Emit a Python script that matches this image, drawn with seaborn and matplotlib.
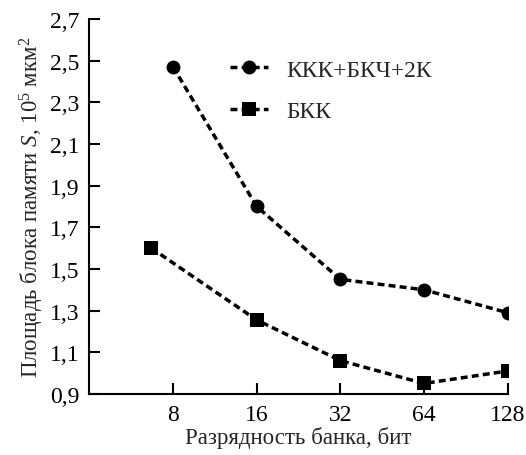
import seaborn as sns
import pandas as pd
import matplotlib.pyplot as plt
from matplotlib.ticker import FuncFormatter

sns.set_style("ticks")
plt.rcParams['font.family'] = ['Liberation Serif', 'DejaVu Serif']
plt.rcParams['mathtext.fontset'] = 'custom'
plt.rcParams['mathtext.rm'] = 'Liberation Serif'
plt.rcParams['mathtext.it'] = 'Liberation Serif:italic'

bits = ["8", "16", "32", "64", "128"]
kkk_x = [0, 1, 2, 3, 4]
kkk = [2.47, 1.80, 1.45, 1.40, 1.29]
bkk_x = [-0.26, 1, 2, 3, 4]
bkk = [1.60, 1.255, 1.06, 0.95, 1.01]

df = pd.concat([
    pd.DataFrame({"x": kkk_x, "S": kkk, "Серия": "ККК+БКЧ+2К"}),
    pd.DataFrame({"x": bkk_x, "S": bkk, "Серия": "БКК"}),
])

fig, ax = plt.subplots(figsize=(5.26, 4.56), dpi=100)
sns.lineplot(data=df, x="x", y="S", hue="Серия", style="Серия",
             palette=["black", "black"], markers=["o", "s"],
             dashes=[(2, 1.2), (2, 1.2)], linewidth=2.5, markersize=10,
             markeredgewidth=0, ax=ax)

ax.set_xlim(-1, 4)
ax.set_ylim(0.9, 2.7)
ax.set_xticks(range(5))
ax.set_xticklabels(bits)
ax.set_yticks([0.9 + 0.2 * i for i in range(10)])
ax.yaxis.set_major_formatter(FuncFormatter(lambda v, p: f"{v:.1f}".replace(".", ",")))
ax.tick_params(direction="in", length=8, width=1.5, labelsize=17, colors="black", pad=7)
for s in ["top", "right"]:
    ax.spines[s].set_visible(False)
for s in ["left", "bottom"]:
    ax.spines[s].set_linewidth(1.5)
    ax.spines[s].set_color("black")

ax.set_xlabel("Разрядность банка, бит", fontsize=16.5, labelpad=1)
ax.set_ylabel("Площадь блока памяти $S$, 10$^5$ мкм$^2$", fontsize=16.5, labelpad=3)

leg = ax.legend(title=None, frameon=False, fontsize=17, loc="upper left",
                bbox_to_anchor=(0.285, 0.95), handlelength=1.6, handletextpad=0.8,
                labelspacing=0.85)

fig.subplots_adjust(left=0.17, right=0.965, top=0.956, bottom=0.134)
fig.savefig("out.png", dpi=100)
